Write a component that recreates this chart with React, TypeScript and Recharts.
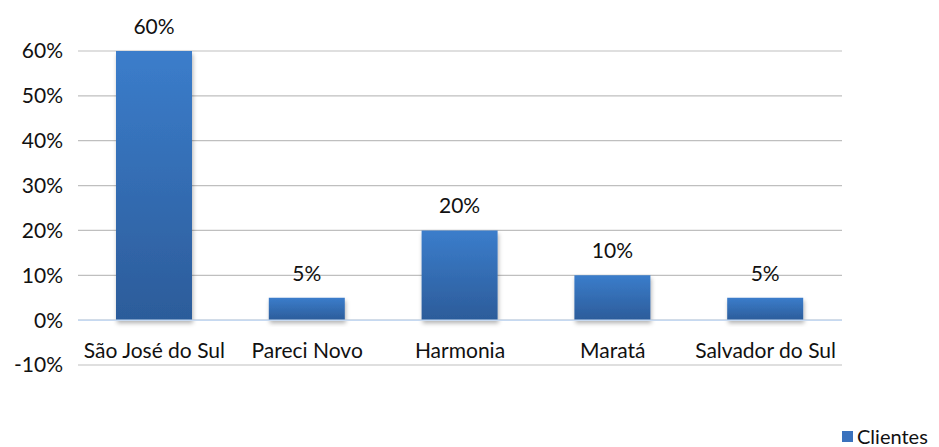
import React from "react";
import {
  BarChart,
  Bar,
  XAxis,
  YAxis,
  CartesianGrid,
  ReferenceLine,
  LabelList,
  Legend,
} from "recharts";

const cidades = ["São José do Sul", "Pareci Novo", "Harmonia", "Maratá", "Salvador do Sul"];
const clientes = [60, 5, 20, 10, 5];
const yTicks = [-10, 0, 10, 20, 30, 40, 50, 60];

const data = cidades.map((nome, i) => ({ nome, clientes: clientes[i] }));

const FONT = "Lato, 'Open Sans', sans-serif";
const FS = 21;

const XTick = ({ x, y, payload }: any) => (
  <text x={x} y={y - 7} textAnchor="middle" fontSize={FS} fontFamily={FONT} fill="#111">
    {payload.value}
  </text>
);

const LegendBox = () => (
  <div style={{ display: "flex", alignItems: "center", fontFamily: FONT, fontSize: 20, color: "#111", lineHeight: "20px" }}>
    <span style={{ width: 11, height: 11, background: "#3a72bd", marginRight: 4, display: "inline-block" }} />
    Clientes
  </div>
);

export default function App() {
  return (
    <div style={{ width: 923, height: 439, position: "relative" }}>
      <BarChart
        width={923}
        height={439}
        data={data}
        margin={{ top: 43, right: 89, bottom: 52, left: 10 }}
      >
        <defs>
          <linearGradient id="barGrad" x1="0" y1="0" x2="0" y2="1">
            <stop offset="0%" stopColor="#3b7dcb" />
            <stop offset="100%" stopColor="#2c5c9a" />
          </linearGradient>
          <filter id="barShadow" x="-10%" y="-10%" width="130%" height="140%">
            <feDropShadow dx="1" dy="3" stdDeviation="2" floodColor="#000" floodOpacity="0.3" />
          </filter>
        </defs>
        <CartesianGrid vertical={false} stroke="#bfbfbf" strokeWidth={1.2} />
        <XAxis
          dataKey="nome"
          axisLine={false}
          tickLine={false}
          tickSize={0}
          tickMargin={0}
          tick={<XTick />}
          interval={0}
        />
        <YAxis
          width={60}
          domain={[-10, 60]}
          ticks={yTicks}
          axisLine={false}
          tickLine={false}
          tickSize={0}
          tickMargin={15}
          tickFormatter={(v) => `${v}%`}
          tick={{ fontSize: FS, fontFamily: FONT, fill: "#111" }}
        />
        <ReferenceLine y={0} stroke="#c6d9f1" strokeWidth={1.5} />
        <Bar
          dataKey="clientes"
          name="Clientes"
          barSize={76}
          fill="url(#barGrad)"
          filter="url(#barShadow)"
          isAnimationActive={false}
        >
          <LabelList
            dataKey="clientes"
            position="top"
            offset={17}
            formatter={(v: any) => `${v}%`}
            style={{ fontSize: FS, fontFamily: FONT, fill: "#111" }}
          />
        </Bar>
        <Legend
          layout="horizontal"
          verticalAlign="middle"
          content={<LegendBox />}
          wrapperStyle={{ position: "absolute", left: 834, top: 418, width: 100 }}
        />
      </BarChart>
    </div>
  );
}
